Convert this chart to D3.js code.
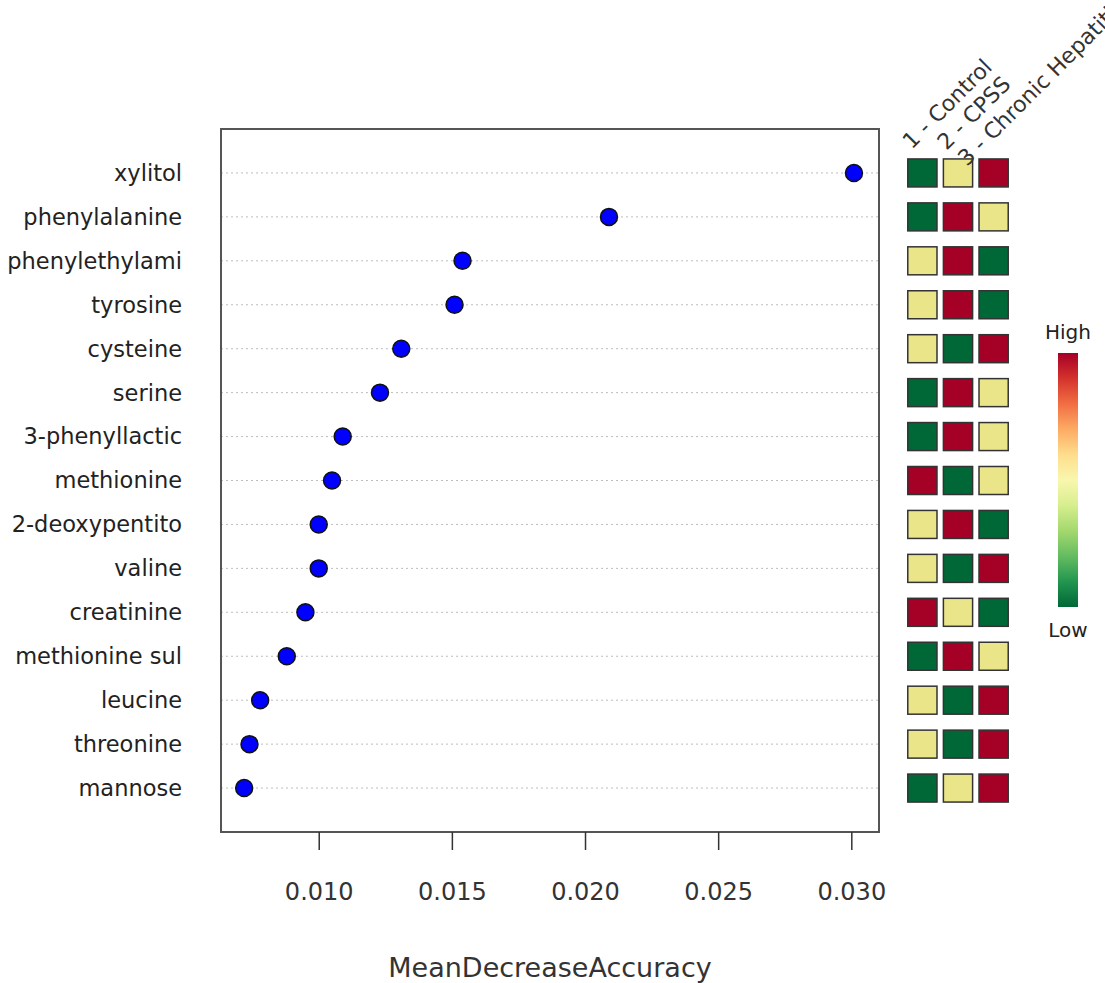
<!DOCTYPE html>
<html>
<head>
<meta charset="utf-8">
<script src="https://cdn.jsdelivr.net/npm/d3@7"></script>
<style>
  body { margin: 0; background: #fff; }
  text { font-family: "DejaVu Sans", Verdana, sans-serif; fill: #222; }
</style>
</head>
<body>
<div id="chart"></div>
<script>
// features, top to bottom
var features = ["xylitol", "phenylalanine", "phenylethylami", "tyrosine", "cysteine",
  "serine", "3-phenyllactic", "methionine", "2-deoxypentito", "valine",
  "creatinine", "methionine sul", "leucine", "threonine", "mannose"];
var mda = [0.0301, 0.0209, 0.0154, 0.0151, 0.0131, 0.0123, 0.0109, 0.0105,
  0.0100, 0.0100, 0.0095, 0.0088, 0.0078, 0.0074, 0.0072];
var groups = ["1 - Control", "2 - CPSS", "3 - Chronic Hepatitis"];
// relative level per group: 0 low, 0.5 mid, 1 high
var levels = [
  [0, 0.5, 1], [0, 1, 0.5], [0.5, 1, 0], [0.5, 1, 0], [0.5, 0, 1],
  [0, 1, 0.5], [0, 1, 0.5], [1, 0, 0.5], [0.5, 1, 0], [0.5, 0, 1],
  [1, 0.5, 0], [0, 1, 0.5], [0.5, 0, 1], [0.5, 0, 1], [0, 0.5, 1]
];
var xTicks = [0.010, 0.015, 0.020, 0.025, 0.030];

var W = 1105, H = 983;
var box = {left: 221, right: 879, top: 129, bottom: 832};

var svg = d3.select("#chart").append("svg")
  .attr("width", W).attr("height", H);

var x = d3.scaleLinear()
  .domain([0.00633, 0.03104])
  .range([box.left, box.right]);

var y = d3.scalePoint()
  .domain(features)
  .range([box.top, box.bottom])
  .padding(1);

// dotted guide lines
svg.selectAll(".guide")
  .data(features)
  .enter().append("line")
  .attr("class", "guide")
  .attr("x1", box.left).attr("x2", box.right)
  .attr("y1", function(d){ return y(d); })
  .attr("y2", function(d){ return y(d); })
  .style("stroke", "#bdbdbd")
  .style("stroke-width", 1)
  .style("stroke-dasharray", "2,3");

// frame
svg.append("rect")
  .attr("x", box.left).attr("y", box.top)
  .attr("width", box.right - box.left).attr("height", box.bottom - box.top)
  .style("fill", "none").style("stroke", "#555").style("stroke-width", 2);

// row labels
svg.selectAll(".rowlab")
  .data(features)
  .enter().append("text")
  .attr("class", "rowlab")
  .attr("x", 182)
  .attr("y", function(d){ return y(d); })
  .attr("dy", "0.35em")
  .style("text-anchor", "end")
  .style("font-size", "22.5px")
  .text(function(d){ return d; });

// dots
svg.selectAll(".dot")
  .data(mda)
  .enter().append("circle")
  .attr("class", "dot")
  .attr("cx", function(d){ return x(d); })
  .attr("cy", function(d, i){ return y(features[i]); })
  .attr("r", 8.5)
  .style("fill", "#0000ff")
  .style("stroke", "#111")
  .style("stroke-width", 1.5);

// x axis
var xAxis = d3.axisBottom(x)
  .tickValues(xTicks)
  .tickFormat(d3.format(".3f"))
  .tickSize(18)
  .tickPadding(33);

var gx = svg.append("g")
  .attr("transform", "translate(0," + box.bottom + ")")
  .call(xAxis);
gx.select(".domain").remove();
gx.selectAll(".tick line").style("stroke", "#333").style("stroke-width", 1.5);
gx.selectAll(".tick text")
  .style("font-family", "DejaVu Sans, Verdana, sans-serif")
  .style("font-size", "24px")
  .style("fill", "#333");

svg.append("text")
  .attr("x", (box.left + box.right) / 2)
  .attr("y", 977)
  .style("text-anchor", "middle")
  .style("font-size", "27px")
  .style("fill", "#333")
  .text("MeanDecreaseAccuracy");

// heat cells
var col = d3.scaleBand()
  .domain(groups)
  .range([906, 1010])
  .paddingInner(0.18)
  .paddingOuter(0.05);

var heat = d3.scaleLinear()
  .domain([0, 0.5, 1])
  .range(["#006837", "#ebe58a", "#a50026"]);

var cellSize = 28;
features.forEach(function(f, i) {
  svg.selectAll(".cell-" + i)
    .data(levels[i])
    .enter().append("rect")
    .attr("x", function(d, j){ return col(groups[j]); })
    .attr("y", y(f) - cellSize / 2)
    .attr("width", col.bandwidth())
    .attr("height", cellSize)
    .style("fill", function(d){ return heat(d); })
    .style("stroke", "#333")
    .style("stroke-width", 1.5);
});

// rotated group labels (the last one runs off the right edge, as in the original)
var labOff = [[4, 150], [3, 151], [-12, 167]];
svg.selectAll(".grplab")
  .data(groups)
  .enter().append("text")
  .attr("class", "grplab")
  .attr("transform", function(d, j){
    return "translate(" + (col(d) + labOff[j][0]) + "," + labOff[j][1] + ") rotate(-45)";
  })
  .style("font-size", "22px")
  .style("fill", "#333")
  .text(function(d){ return d; });

// color key
var defs = svg.append("defs");
var grad = defs.append("linearGradient")
  .attr("id", "keygrad")
  .attr("x1", "0").attr("y1", "1").attr("x2", "0").attr("y2", "0");
d3.range(0, 1.0001, 0.1).forEach(function(t) {
  grad.append("stop")
    .attr("offset", (t * 100) + "%")
    .attr("stop-color", d3.interpolateRdYlGn(1 - t));
});

var key = {x: 1058, w: 20, top: 353, bottom: 607};
svg.append("rect")
  .attr("x", key.x).attr("y", key.top)
  .attr("width", key.w).attr("height", key.bottom - key.top)
  .style("fill", "url(#keygrad)");

svg.append("text")
  .attr("x", key.x + key.w / 2).attr("y", 339)
  .style("text-anchor", "middle").style("font-size", "20px")
  .text("High");
svg.append("text")
  .attr("x", key.x + key.w / 2).attr("y", 637)
  .style("text-anchor", "middle").style("font-size", "20px")
  .text("Low");
</script>
</body>
</html>
